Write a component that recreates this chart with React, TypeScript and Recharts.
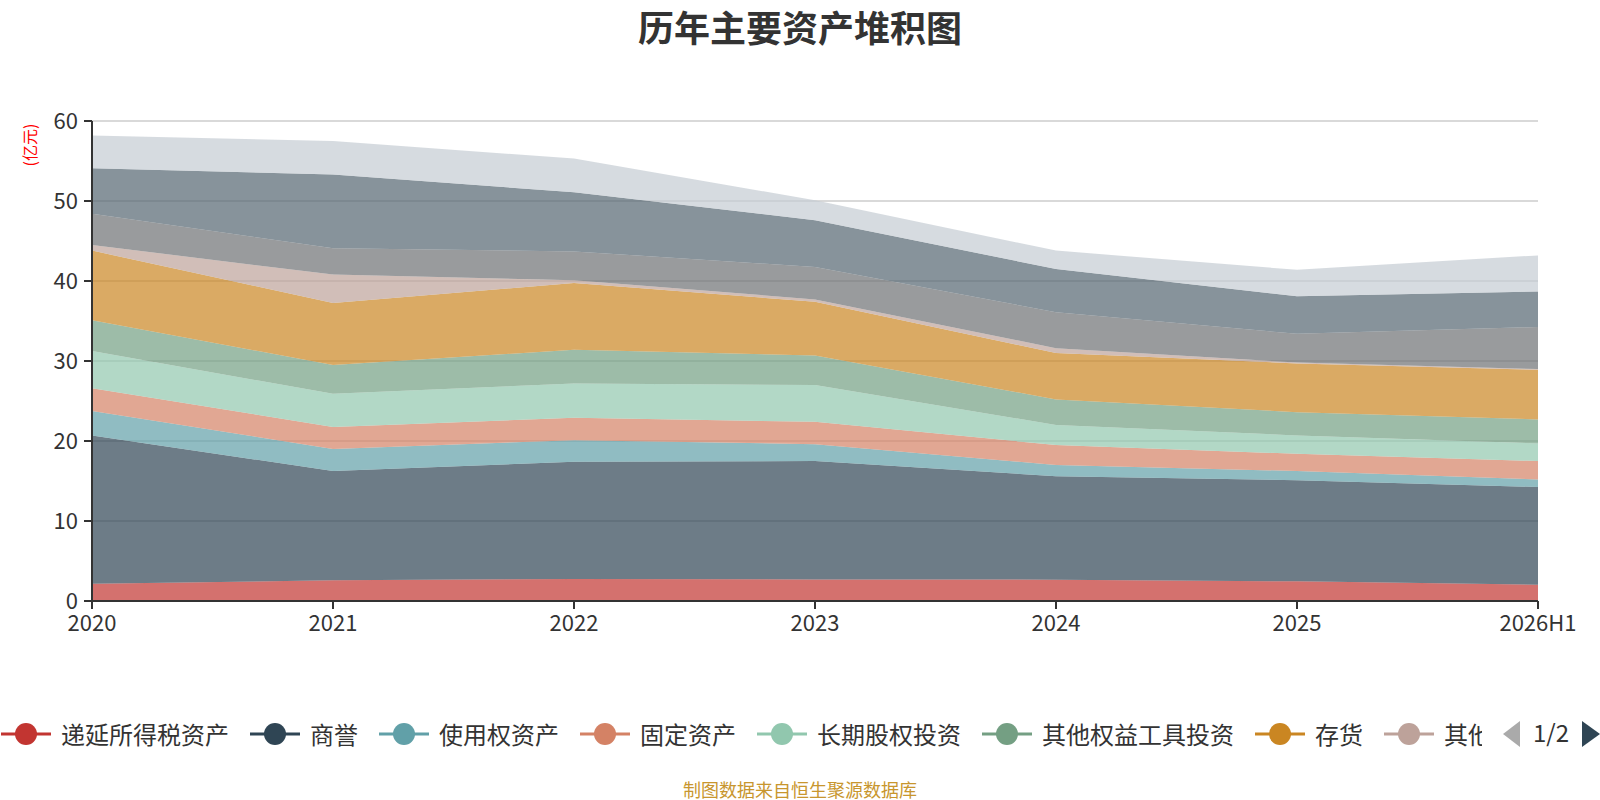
import React from "react";
import { AreaChart, Area, XAxis, YAxis, CartesianGrid } from "recharts";

const categories = ["2020", "2021", "2022", "2023", "2024", "2025", "2026H1"];

const deferredTax = [2.17, 2.58, 2.75, 2.7, 2.67, 2.46, 2.04];
const goodwill = [18.53, 13.67, 14.65, 14.8, 12.93, 12.64, 12.21];
const rightOfUse = [3.05, 2.75, 2.7, 2.1, 1.4, 1.15, 0.95];
const fixedAssets = [2.85, 2.75, 2.8, 2.8, 2.5, 2.15, 2.3];
const longTermEquity = [4.65, 4.15, 4.3, 4.6, 2.5, 2.3, 2.2];
const otherEquityInstr = [3.85, 3.6, 4.2, 3.7, 3.2, 2.9, 3.0];
const inventory = [8.7, 7.75, 8.35, 6.7, 5.8, 6.1, 6.2];
const otherNonCurrent = [0.7, 3.55, 0.35, 0.3, 0.6, 0.1, 0.1];
const receivables = [3.9, 3.3, 3.6, 4.05, 4.5, 3.6, 5.25];
const cash = [5.7, 9.2, 7.4, 5.85, 5.4, 4.7, 4.45];
const others = [4.1, 4.2, 4.2, 2.5, 2.3, 3.3, 4.5];

const seriesNames = [
  "递延所得税资产",
  "商誉",
  "使用权资产",
  "固定资产",
  "长期股权投资",
  "其他权益工具投资",
  "存货",
  "其他非流动资产",
  "应收票据及应收账款",
  "货币资金",
  "其他",
];
const seriesValues = [
  deferredTax,
  goodwill,
  rightOfUse,
  fixedAssets,
  longTermEquity,
  otherEquityInstr,
  inventory,
  otherNonCurrent,
  receivables,
  cash,
  others,
];
const colors = [
  "#c23531",
  "#2f4554",
  "#61a0a8",
  "#d48265",
  "#91c7ae",
  "#749f83",
  "#ca8622",
  "#bda29a",
  "#6e7074",
  "#546570",
  "#c4ccd3",
];
const yTicks = [0, 10, 20, 30, 40, 50, 60];

const data = categories.map((c, i) => {
  const row: Record<string, string | number> = { year: c };
  seriesNames.forEach((n, k) => {
    row["s" + k] = seriesValues[k][i];
  });
  return row;
});

const FONT = '"Noto Sans CJK SC", "Noto Sans", sans-serif';

function LegendIcon({ color }: { color: string }) {
  return (
    <svg width={50} height={26} style={{ flex: "none" }}>
      <line x1={0} y1={13} x2={50} y2={13} stroke={color} strokeWidth={3} />
      <circle cx={25} cy={13} r={11} fill={color} />
    </svg>
  );
}

export default function App() {
  return (
    <div
      style={{
        position: "absolute",
        left: 0,
        top: 0,
        width: 1600,
        height: 800,
        background: "#fff",
        fontFamily: FONT,
        overflow: "hidden",
      }}
    >
      <div
        style={{
          position: "absolute",
          left: 0,
          top: 8,
          width: 1600,
          textAlign: "center",
          fontSize: 36,
          lineHeight: "36px",
          fontWeight: "bold",
          color: "#333",
        }}
      >
        历年主要资产堆积图
      </div>
      <div
        style={{
          position: "absolute",
          left: 29,
          top: 145,
          transform: "translate(-50%, -50%) rotate(-90deg)",
          fontSize: 16,
          color: "#ff0000",
          whiteSpace: "nowrap",
        }}
      >
        (亿元)
      </div>
      <AreaChart
        width={1600}
        height={800}
        data={data}
        margin={{ top: 121, right: 62, bottom: 169, left: 0 }}
        style={{ fontFamily: FONT }}
      >
        <CartesianGrid vertical={false} stroke="#cccccc" strokeWidth={1.5} />
        <XAxis
          dataKey="year"
          height={30}
          interval={0}
          tickSize={8}
          tickMargin={6}
          axisLine={{ stroke: "#333", strokeWidth: 2 }}
          tickLine={{ stroke: "#333", strokeWidth: 2 }}
          tick={{ fill: "#333", fontSize: 22 }}
        />
        <YAxis
          width={92}
          domain={[0, 60]}
          ticks={yTicks}
          interval={0}
          tickSize={8}
          tickMargin={6}
          axisLine={{ stroke: "#333", strokeWidth: 2 }}
          tickLine={{ stroke: "#333", strokeWidth: 2 }}
          tick={{ fill: "#333", fontSize: 22 }}
        />
        {seriesNames.map((n, k) => (
          <Area
            key={n}
            name={n}
            dataKey={"s" + k}
            type="linear"
            stackId="a"
            stroke="none"
            fill={colors[k]}
            fillOpacity={0.7}
            activeDot={false}
            dot={false}
            isAnimationActive={false}
          />
        ))}
      </AreaChart>
      <div
        style={{
          position: "absolute",
          left: 1,
          top: 716,
          width: 1481,
          height: 36,
          overflow: "hidden",
          display: "flex",
          alignItems: "center",
          whiteSpace: "nowrap",
        }}
      >
        {seriesNames.map((n, k) => (
          <div
            key={n}
            style={{ display: "flex", alignItems: "center", marginRight: 21, flex: "none" }}
          >
            <LegendIcon color={colors[k]} />
            <span style={{ marginLeft: 10, fontSize: 24, lineHeight: "34px", color: "#333" }}>{n}</span>
          </div>
        ))}
      </div>
      <svg
        style={{ position: "absolute", left: 1500, top: 719 }}
        width={100}
        height={30}
      >
        <polygon points="3,15 20,2 20,28" fill="#aaaaaa" />
        <text x={51} y={23} textAnchor="middle" fontSize={24} fill="#333" fontFamily={FONT}>
          1/2
        </text>
        <polygon points="100,15 82,2 82,28" fill="#2f4554" />
      </svg>
      <div
        style={{
          position: "absolute",
          left: 0,
          top: 779,
          width: 1600,
          textAlign: "center",
          fontSize: 18,
          lineHeight: "20px",
          color: "#c8962e",
        }}
      >
        制图数据来自恒生聚源数据库
      </div>
    </div>
  );
}
